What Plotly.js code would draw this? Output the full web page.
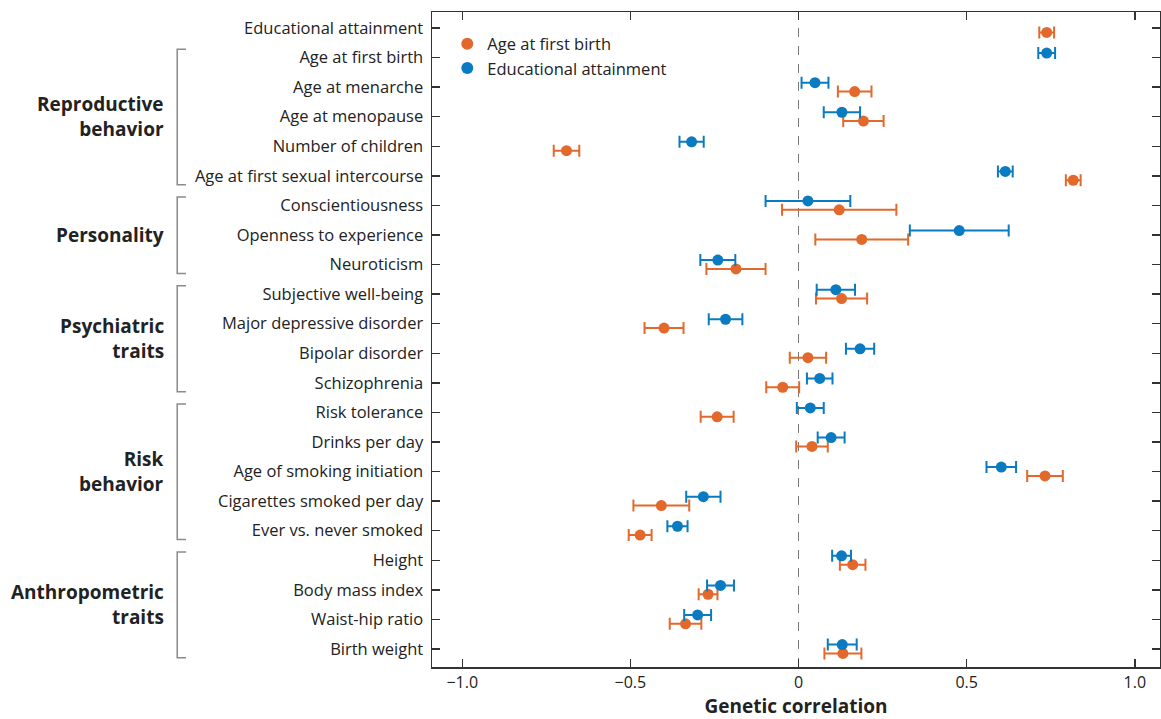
<!DOCTYPE html>
<html>
<head>
<meta charset="utf-8">
<script src="https://cdn.plot.ly/plotly-3.0.1.min.js"></script>
<style>html,body{margin:0;padding:0;background:#fff;}#chart{width:1161px;height:719px;}</style>
</head>
<body>
<div id="chart"></div>
<script>
var categories = ["Educational attainment","Age at first birth","Age at menarche","Age at menopause","Number of children","Age at first sexual intercourse","Conscientiousness","Openness to experience","Neuroticism","Subjective well-being","Major depressive disorder","Bipolar disorder","Schizophrenia","Risk tolerance","Drinks per day","Age of smoking initiation","Cigarettes smoked per day","Ever vs. never smoked","Height","Body mass index","Waist-hip ratio","Birth weight"];

// Correlation with age at first birth (orange); null = not shown
var afbValue = [0.738, null, 0.167, 0.193, -0.690, 0.817, 0.121, 0.188, -0.186, 0.128, -0.400, 0.028, -0.047, -0.242, 0.040, 0.733, -0.408, -0.471, 0.161, -0.269, -0.336, 0.132];
var afbError = [0.022, null, 0.050, 0.060, 0.038, 0.022, 0.170, 0.138, 0.088, 0.076, 0.058, 0.054, 0.049, 0.049, 0.047, 0.053, 0.083, 0.034, 0.038, 0.028, 0.047, 0.055];

// Correlation with educational attainment (blue)
var eaValue = [null, 0.738, 0.049, 0.129, -0.318, 0.615, 0.028, 0.478, -0.240, 0.111, -0.217, 0.183, 0.063, 0.035, 0.097, 0.603, -0.283, -0.360, 0.128, -0.232, -0.300, 0.130];
var eaError = [null, 0.025, 0.040, 0.054, 0.036, 0.022, 0.126, 0.147, 0.052, 0.057, 0.050, 0.042, 0.038, 0.040, 0.040, 0.044, 0.051, 0.030, 0.028, 0.040, 0.040, 0.043];

var groupNames = ["Reproductive<br>behavior","Personality","Psychiatric<br>traits","Risk<br>behavior","Anthropometric<br>traits"];
var groupStart = [1, 6, 9, 13, 18];
var groupEnd = [5, 8, 12, 17, 21];

var orange = "#E2692B";
var blue = "#0A7BC1";
var rowIndex = categories.map(function(c, i){ return i; });

function build(values, errors, shift, color, name){
  var x = [], y = [], e = [];
  values.forEach(function(v, i){
    if (v !== null) { x.push(v); y.push(rowIndex[i] + shift); e.push(errors[i]); }
  });
  return {
    type: "scatter", mode: "markers", name: name,
    x: x, y: y,
    error_x: {type: "data", array: e, visible: true, color: color, thickness: 2, width: 6},
    marker: {color: color, size: 11},
    cliponaxis: false
  };
}

var traces = [
  build(afbValue, afbError, 0.15, orange, "Age at first birth"),
  build(eaValue, eaError, -0.15, blue, "Educational attainment")
];

var shapes = [{
  type: "line", xref: "x", yref: "paper", x0: 0, x1: 0, y0: 0, y1: 1,
  line: {color: "#777", width: 1, dash: "dash"}, layer: "below"
}];
var annotations = [];
var bx = -0.350, btick = -0.338;
groupStart.forEach(function(s, g){
  var e = groupEnd[g];
  var top = s - 0.28, bot = e + 0.3;
  shapes.push({type: "path", xref: "paper", yref: "y",
    path: "M " + btick + " " + top + " L " + bx + " " + top + " L " + bx + " " + bot + " L " + btick + " " + bot,
    line: {color: "#8a8a8a", width: 1.5}});
  annotations.push({xref: "paper", yref: "y", x: -0.366, y: (s + e) / 2, xanchor: "right", yanchor: "middle",
    text: "<b>" + groupNames[g] + "</b>", showarrow: false, align: "right",
    font: {family: "Open Sans, sans-serif", size: 19, color: "#222"}});
});

var layout = {
  width: 1161, height: 719,
  margin: {l: 432, r: 1, t: 12, b: 52},
  paper_bgcolor: "#fff", plot_bgcolor: "#fff",
  showlegend: true,
  legend: {x: 0.021, y: 0.978, xanchor: "left", yanchor: "top", bgcolor: "rgba(0,0,0,0)",
    font: {family: "Open Sans, sans-serif", size: 16.5, color: "#222"}, itemsizing: "constant",
    tracegroupgap: 0},
  font: {family: "Open Sans, sans-serif", color: "#222"},
  xaxis: {
    range: [-1.09, 1.075], tickvals: [-1, -0.5, 0, 0.5, 1], ticktext: ["\u22121.0", "\u22120.5", "0", "0.5", "1.0"],
    ticks: "inside", ticklen: 8, tickwidth: 1.5, tickcolor: "#333",
    showline: true, linecolor: "#333", linewidth: 1.5, mirror: "ticks",
    showgrid: false, zeroline: false,
    tickfont: {size: 16, color: "#222"},
    title: {text: "<b>Genetic correlation</b>", font: {size: 19, color: "#222"}, standoff: 10}
  },
  yaxis: {
    range: [21.61, -0.54], tickvals: rowIndex, ticktext: categories,
    ticks: "inside", ticklen: 8, tickwidth: 1.5, tickcolor: "#333",
    showline: true, linecolor: "#333", linewidth: 1.5, mirror: "ticks",
    showgrid: false, zeroline: false, ticklabelstandoff: 4,
    tickfont: {size: 16.5, color: "#222"}
  },
  shapes: shapes,
  annotations: annotations
};

Plotly.newPlot("chart", traces, layout, {displayModeBar: false, staticPlot: true});
</script>
</body>
</html>
